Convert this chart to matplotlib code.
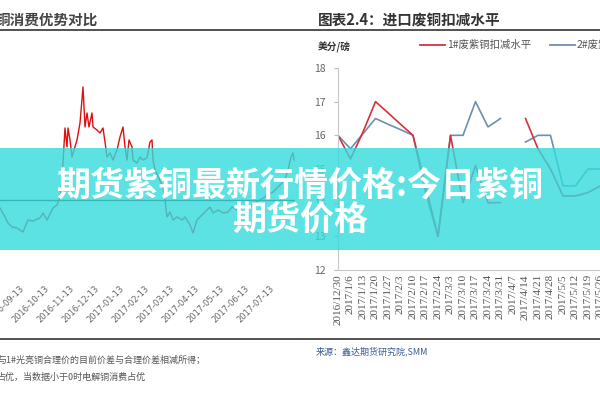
import numpy as np
import matplotlib
matplotlib.use("Agg")
import matplotlib.pyplot as plt
from matplotlib.patches import Rectangle
from matplotlib.lines import Line2D

plt.rcParams['font.family'] = ['Noto Sans CJK SC', 'DejaVu Sans']

# left panel: copper consumption advantage (months after 2016-09-13, value)
left_months = [-0.80, -0.60, -0.48, -0.32, -0.12, 0.00, 0.12, 0.32, 0.52, 0.80, 0.92, 1.08, 1.32, 1.48,
               1.60, 1.68, 1.80, 1.88, 1.92, 2.00, 2.08, 2.16, 2.28, 2.40, 2.52, 2.60, 2.68, 2.76, 2.88,
               2.92, 3.08, 3.20, 3.32, 3.40, 3.48, 3.60, 3.72, 3.88, 4.00, 4.12, 4.20, 4.28, 4.36, 4.48,
               4.52, 4.68, 4.80, 4.92, 5.08, 5.20, 5.28, 5.32, 5.40, 5.72, 5.80, 5.88, 6.00, 6.12, 6.28,
               6.48, 6.60, 6.80, 6.92, 7.08, 7.20, 7.40, 7.60, 7.72, 7.92, 8.12, 8.32, 8.48, 8.68, 8.92,
               9.20, 9.40, 9.60, 9.80, 9.92, 10.08, 10.20, 10.32, 10.48, 10.60, 10.72, 10.84, 10.92, 10.96]
left_values = [-0.8, -1.7, -2.3, -2.7, -2.8, -3.0, -3.2, -2.0, -2.1, -1.8, -1.3, -2.0, -0.8, -0.5,
               0.3, 2.0, 7.2, 5.3, 7.2, 6.0, 4.3, 5.0, 6.0, 7.7, 11.3, 7.3, 8.7, 7.3, 8.7,
               7.3, 7.0, 6.7, 7.2, 5.8, 4.3, 4.7, 4.0, 5.0, 6.3, 7.3, 5.3, 4.0, 6.0, 5.3,
               4.0, 3.7, 4.3, 4.0, 4.2, 5.8, 6.0, 4.0, 3.0, 1.3, 0.0, -1.7, -1.2, -2.0, -1.7,
               -2.0, -1.7, -2.5, -3.3, -2.0, -1.7, -1.2, -0.7, -1.3, -1.0, -1.3, -1.2, -0.7, -1.0, -0.7,
               -0.7, -0.3, 0.0, 0.3, 0.7, 0.7, 1.0, 1.3, 1.7, 2.0, 3.0, 4.3, 4.7, 4.0]
left_ticks = ["2016-09-13", "2016-10-13", "2016-11-13", "2016-12-13", "2017-01-13", "2017-02-13",
              "2017-03-13", "2017-04-13", "2017-05-13", "2017-06-13", "2017-07-13"]

# right panel: imported scrap copper discount (US cents / lb)
weeks = ["2016/12/30", "2017/1/6", "2017/1/13", "2017/1/20", "2017/1/27", "2017/2/3", "2017/2/10",
         "2017/2/17", "2017/2/24", "2017/3/3", "2017/3/10", "2017/3/17", "2017/3/24", "2017/3/31",
         "2017/4/7", "2017/4/14", "2017/4/21", "2017/4/28", "2017/5/5", "2017/5/12", "2017/5/19",
         "2017/5/26", "2017/6/2"]
no1_discount = [16.0, 15.3, 16.1, 17.0, 16.67, 16.33, 16.0, 14.5, 13.0, 16.0, 14.0, 15.1, 14.0, 14.0,
                np.nan, 16.5, 15.6, 15.0, 14.2, 14.2, 14.3, 14.5, 14.5]
no2_discount = [16.0, 15.6, 16.05, 16.5, 16.33, 16.17, 16.0, 14.3, 13.0, 16.0, 16.0, 17.0, 16.25, 16.5,
                np.nan, 15.8, 16.0, 16.0, 14.5, 14.5, 15.0, 15.0, 15.0]

W, H = 600, 400


def fx(x):
    return x / W


def fy(y):
    return 1 - y / H


fig = plt.figure(figsize=(6, 4), dpi=100)
fig.patch.set_facecolor("white")

# ---- left chart
axl = fig.add_axes([fx(0), fy(270), fx(295), 230 / H])
axl.plot(left_months, left_values, color="#dd1010", lw=1.0)
axl.axhline(0, color="#333333", lw=1.0)
axl.set_xlim(-0.8, 11.0)
axl.set_ylim(-7, 16)
axl.set_xticks(range(len(left_ticks)))
axl.set_xticklabels(left_ticks, rotation=45, ha="right", rotation_mode="anchor",
                    fontsize=6, color="#666666", family=["DejaVu Sans"])
axl.tick_params(axis="x", length=0, pad=10)
axl.set_yticks([])
for s in axl.spines.values():
    s.set_visible(False)

# ---- right chart
axr = fig.add_axes([fx(338), fy(270), 275 / W, 202 / H])
x = np.arange(len(weeks))
axr.plot(x, no2_discount, color="#6f8fae", lw=1.2)
axr.plot(x, no1_discount, color="#d9303c", lw=1.2)
axr.set_xlim(0, 22)
axr.set_ylim(12, 18)
axr.set_yticks([12, 13, 14, 15, 16, 17, 18])
axr.tick_params(axis="y", labelsize=7.5, labelcolor="#666666", color="#bbbbbb", length=3, pad=6)
axr.set_xticks(x)
axr.set_xticklabels(weeks, rotation=90, fontsize=8, color="#555555", family=["Liberation Serif"])
axr.tick_params(axis="x", length=0, pad=3)
for side in ["top", "right"]:
    axr.spines[side].set_visible(False)
for side in ["left", "bottom"]:
    axr.spines[side].set_color("#c8c8c8")
    axr.spines[side].set_linewidth(0.8)

# ---- titles, rules, notes
fig.text(fx(-4), fy(20), "铜消费优势对比", ha="left", va="center", fontsize=10.5,
         fontweight="bold", color="#444444")
fig.text(fx(318), fy(20), "图表2.4：进口废铜扣减水平", ha="left", va="center", fontsize=10.5,
         fontweight="bold", color="#333333")
fig.add_artist(Line2D([0, 1], [fy(30), fy(30)], color="#333333", lw=1.2, transform=fig.transFigure))
fig.add_artist(Line2D([0, 1], [fy(339), fy(339)], color="#333333", lw=1.2, transform=fig.transFigure))

fig.text(fx(318), fy(47), "美分/磅", ha="left", va="center", fontsize=7, fontweight="bold",
         color="#333333")
fig.add_artist(Line2D([fx(420), fx(445)], [fy(45), fy(45)], color="#d9303c", lw=1.3,
                      transform=fig.transFigure))
fig.text(fx(447), fy(45), "1#废紫铜扣减水平", ha="left", va="center", fontsize=7.5, color="#555555")
fig.add_artist(Line2D([fx(550), fx(575)], [fy(45), fy(45)], color="#6f8fae", lw=1.3,
                      transform=fig.transFigure))
fig.text(fx(577), fy(45), "2#废紫铜扣减水平", ha="left", va="center", fontsize=7.5, color="#555555")

fig.text(fx(-2), fy(360), "与1#光亮铜合理价的目前价差与合理价差相减所得；", ha="left", va="center",
         fontsize=6.5, color="#555555")
fig.text(fx(-3), fy(377), "占优，当数据小于0时电解铜消费占优", ha="left", va="center",
         fontsize=6.5, color="#555555")
fig.text(fx(316), fy(351), "来源：鑫达期货研究院,SMM", ha="left", va="center", fontsize=6.5,
         style="italic", color="#3a5f95")

# ---- banner
fig.add_artist(Rectangle((0, fy(250)), 1, (250 - 148) / H, transform=fig.transFigure,
                         facecolor="#33dbdd", alpha=0.8, edgecolor="none", zorder=5))
fig.text(0.5, fy(185), "期货紫铜最新行情价格:今日紫铜", ha="center", va="center", fontsize=24.5,
         fontweight="heavy", color="white", zorder=6)
fig.text(0.5, fy(219), "期货价格", ha="center", va="center", fontsize=24.5,
         fontweight="heavy", color="white", zorder=6)

fig.savefig("out.png", dpi=100)
